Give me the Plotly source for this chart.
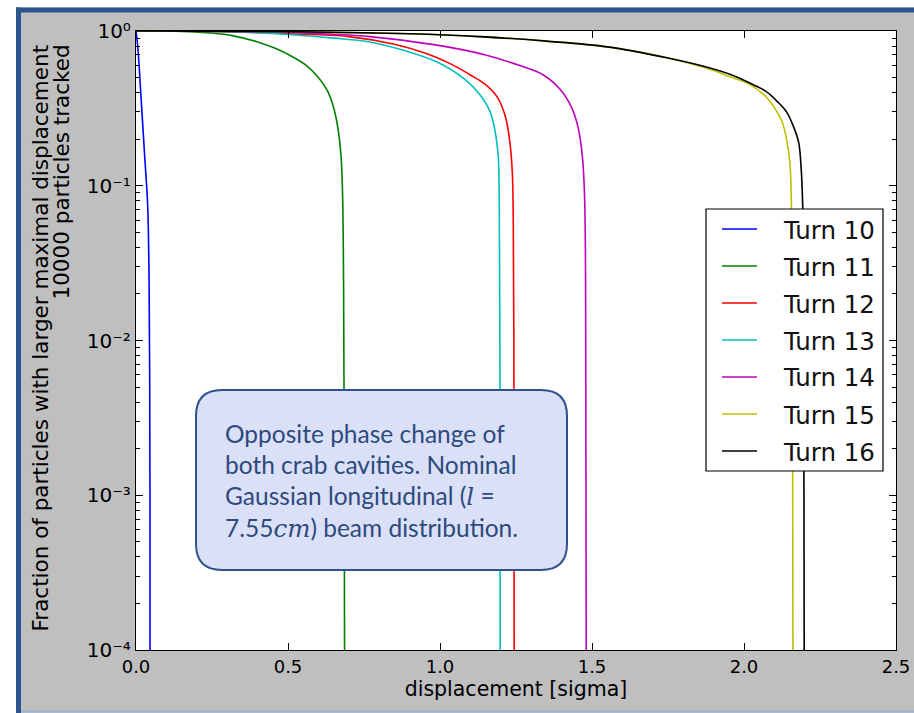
import plotly.graph_objects as go

# Survival curves: fraction of particles whose maximal displacement exceeds x
turn_names = ["Turn 10", "Turn 11", "Turn 12", "Turn 13", "Turn 14", "Turn 15", "Turn 16"]

x10 = [0.0, 0.003, 0.009, 0.015, 0.022, 0.029, 0.035, 0.039, 0.043, 0.045, 0.046, 0.046]
y10 = [1.0, 0.90, 0.65, 0.42, 0.25, 0.15, 0.10, 0.07, 0.025, 0.006, 0.001, 1e-4]

x11 = [0.0, 0.15, 0.25, 0.32, 0.40, 0.46, 0.51, 0.56, 0.60, 0.63, 0.65, 0.665, 0.675, 0.680, 0.683, 0.685, 0.686]
y11 = [1.0, 0.995, 0.97, 0.93, 0.85, 0.77, 0.69, 0.60, 0.50, 0.41, 0.32, 0.23, 0.15, 0.08, 0.02, 0.002, 1e-4]

x12 = [0.0, 0.3, 0.5, 0.7, 0.85, 0.95, 1.03, 1.10, 1.15, 1.19, 1.215, 1.23, 1.238, 1.241, 1.243, 1.244]
y12 = [1.0, 0.99, 0.96, 0.92, 0.82, 0.72, 0.62, 0.52, 0.45, 0.37, 0.28, 0.19, 0.12, 0.06, 0.01, 1e-4]

x13 = [0.0, 0.3, 0.5, 0.65, 0.77, 0.88, 0.99, 1.08, 1.13, 1.165, 1.182, 1.192, 1.195, 1.197, 1.198]
y13 = [1.0, 0.99, 0.95, 0.90, 0.85, 0.75, 0.63, 0.49, 0.39, 0.30, 0.22, 0.15, 0.075, 0.01, 1e-4]

x14 = [0.0, 0.3, 0.55, 0.77, 0.99, 1.15, 1.26, 1.34, 1.395, 1.433, 1.455, 1.469, 1.476, 1.479, 1.480, 1.481]
y14 = [1.0, 0.995, 0.97, 0.92, 0.81, 0.70, 0.60, 0.52, 0.42, 0.32, 0.235, 0.15, 0.08, 0.02, 0.002, 1e-4]

x15 = [0.0, 0.5, 0.9, 1.13, 1.35, 1.55, 1.75, 1.87, 1.95, 2.02, 2.07, 2.10, 2.125, 2.14, 2.151, 2.156, 2.159, 2.160, 2.161]
y15 = [1.0, 0.99, 0.96, 0.92, 0.86, 0.79, 0.67, 0.58, 0.51, 0.45, 0.38, 0.32, 0.26, 0.20, 0.14, 0.075, 0.02, 0.002, 1e-4]

x16 = [0.0, 0.5, 0.9, 1.13, 1.35, 1.55, 1.75, 1.87, 1.96, 2.03, 2.07, 2.11, 2.14, 2.165, 2.18, 2.188, 2.193, 2.196, 2.197, 2.198]
y16 = [1.0, 0.99, 0.96, 0.92, 0.86, 0.79, 0.67, 0.59, 0.52, 0.45, 0.41, 0.35, 0.30, 0.235, 0.19, 0.13, 0.075, 0.02, 0.002, 1e-4]

x_ticks = [0.0, 0.5, 1.0, 1.5, 2.0, 2.5]
y_ticks = [1e-4, 1e-3, 1e-2, 1e-1, 1.0]
y_tick_text = ["10⁻⁴", "10⁻³", "10⁻²", "10⁻¹", "10⁰"]

y_title_lines = ["Fraction of particles with larger maximal displacement", "10000 particles tracked"]
x_title = "displacement [sigma]"

note_lines = [
    "Opposite phase change of",
    "both crab cavities. Nominal",
    "Gaussian longitudinal (<span style=\"font-family:'DejaVu Serif'\"><i>l</i></span> =",
    "7.55<span style=\"font-family:'DejaVu Serif'\"><i>cm</i></span>) beam distribution.",
]

series = [(x10, y10), (x11, y11), (x12, y12), (x13, y13), (x14, y14), (x15, y15), (x16, y16)]
colors = ["#0000FF", "#008000", "#FF0000", "#00BFBF", "#BF00BF", "#BFBF00", "#000000"]

W_FIG, H_FIG = 914, 713
L, T, W, H = 136, 31, 760, 619


def px(x):
    return (x - L) / W


def py(y):
    return (T + H - y) / H


fig = go.Figure()
for name, (xs, ys), c in zip(turn_names, series, colors):
    fig.add_trace(go.Scatter(
        x=xs, y=ys, mode="lines", name=name, showlegend=False,
        line=dict(color=c, width=1.6, shape="spline", smoothing=1.0),
    ))

# frame around the figure
frame = [
    dict(x0=0, x1=W_FIG, y0=0, y1=7.5, color="#FFFFFF"),
    dict(x0=0, x1=16, y0=0, y1=H_FIG, color="#FFFFFF"),
    dict(x0=16, x1=W_FIG, y0=7.5, y1=12.5, color="#2E5590"),
    dict(x0=16, x1=21, y0=7.5, y1=H_FIG, color="#2E5590"),
    dict(x0=21, x1=W_FIG, y0=710.5, y1=712.5, color="#9DB3D6"),
]
for f in frame:
    fig.add_shape(type="rect", xref="paper", yref="paper",
                  x0=px(f["x0"]), x1=px(f["x1"]), y0=py(f["y1"]), y1=py(f["y0"]),
                  fillcolor=f["color"], line_width=0, layer="above")

# legend: frame, line samples and labels
fig.add_shape(type="rect", xref="paper", yref="paper",
              x0=px(706), x1=px(883), y0=py(471), y1=py(209),
              fillcolor="#FFFFFF", line=dict(color="black", width=1.2), layer="above")
for i, (name, c) in enumerate(zip(turn_names, colors)):
    yc = 229 + 37 * i
    fig.add_shape(type="line", xref="paper", yref="paper",
                  x0=px(722), x1=px(757), y0=py(yc), y1=py(yc),
                  line=dict(color=c, width=1.6), layer="above")
    fig.add_annotation(xref="paper", yref="paper", x=px(781), y=py(yc + 1),
                       xanchor="left", yanchor="middle", showarrow=False, text=name,
                       font=dict(family="DejaVu Sans", size=24.5, color="#111111"))

# rounded callout box
bx0, bx1, by0, by1, r = 196, 567, 390, 570, 26
pts = [
    ("M", [(bx0 + r, by0)]), ("L", [(bx1 - r, by0)]), ("Q", [(bx1, by0), (bx1, by0 + r)]),
    ("L", [(bx1, by1 - r)]), ("Q", [(bx1, by1), (bx1 - r, by1)]),
    ("L", [(bx0 + r, by1)]), ("Q", [(bx0, by1), (bx0, by1 - r)]),
    ("L", [(bx0, by0 + r)]), ("Q", [(bx0, by0), (bx0 + r, by0)]),
]
path = " ".join(cmd + " " + " ".join(f"{px(a):.5f},{py(b):.5f}" for a, b in p) for cmd, p in pts) + " Z"
fig.add_shape(type="path", xref="paper", yref="paper", path=path,
              fillcolor="#DAE0F8", line=dict(color="#2F528F", width=2), layer="above")

for i, line in enumerate(note_lines):
    fig.add_annotation(xref="paper", yref="paper", x=px(223), y=py(433 + i * 31.7),
                       xanchor="left", yanchor="middle", showarrow=False, text=line,
                       font=dict(family="Lato", size=24.5, color="#2D4A7C"))

# y-axis title: two rotated lines, both ending near the top of the axis
for xc, txt in zip([40, 61], y_title_lines):
    fig.add_annotation(xref="paper", yref="paper", x=px(xc), y=py(43), textangle=-90,
                       xanchor="center", yanchor="top", showarrow=False, text=txt,
                       font=dict(family="DejaVu Sans", size=21.5, color="black"))

tick_font = dict(family="DejaVu Sans", size=18, color="black")
fig.update_xaxes(
    range=[0, 2.5], tickvals=x_ticks, ticktext=[f"{v:.1f}" for v in x_ticks],
    ticks="inside", ticklen=7, tickcolor="black", showline=True, linecolor="black",
    linewidth=1.2, mirror="allticks", showgrid=False, zeroline=False, tickfont=tick_font,
    title=dict(text=x_title, font=dict(family="DejaVu Sans", size=20.5, color="black"),
               standoff=3),
)
fig.update_yaxes(
    type="log", range=[-4, 0], tickvals=y_ticks, ticktext=y_tick_text,
    ticks="inside", ticklen=7, tickcolor="black", showline=True, linecolor="black",
    linewidth=1.2, mirror="allticks", showgrid=False, zeroline=False,
    tickfont=dict(family="DejaVu Sans", size=20, color="black"),
    minor=dict(tickvals=[k * 10.0 ** e for e in range(-4, 0) for k in range(2, 10)],
               ticks="inside", ticklen=4, tickcolor="black", showgrid=False),
)

fig.update_layout(
    width=W_FIG, height=H_FIG,
    margin=dict(l=L, r=W_FIG - L - W, t=T, b=H_FIG - T - H, autoexpand=False),
    paper_bgcolor="#BFBFBF", plot_bgcolor="#FFFFFF",
    showlegend=False,
)

fig.write_html("out.html")
